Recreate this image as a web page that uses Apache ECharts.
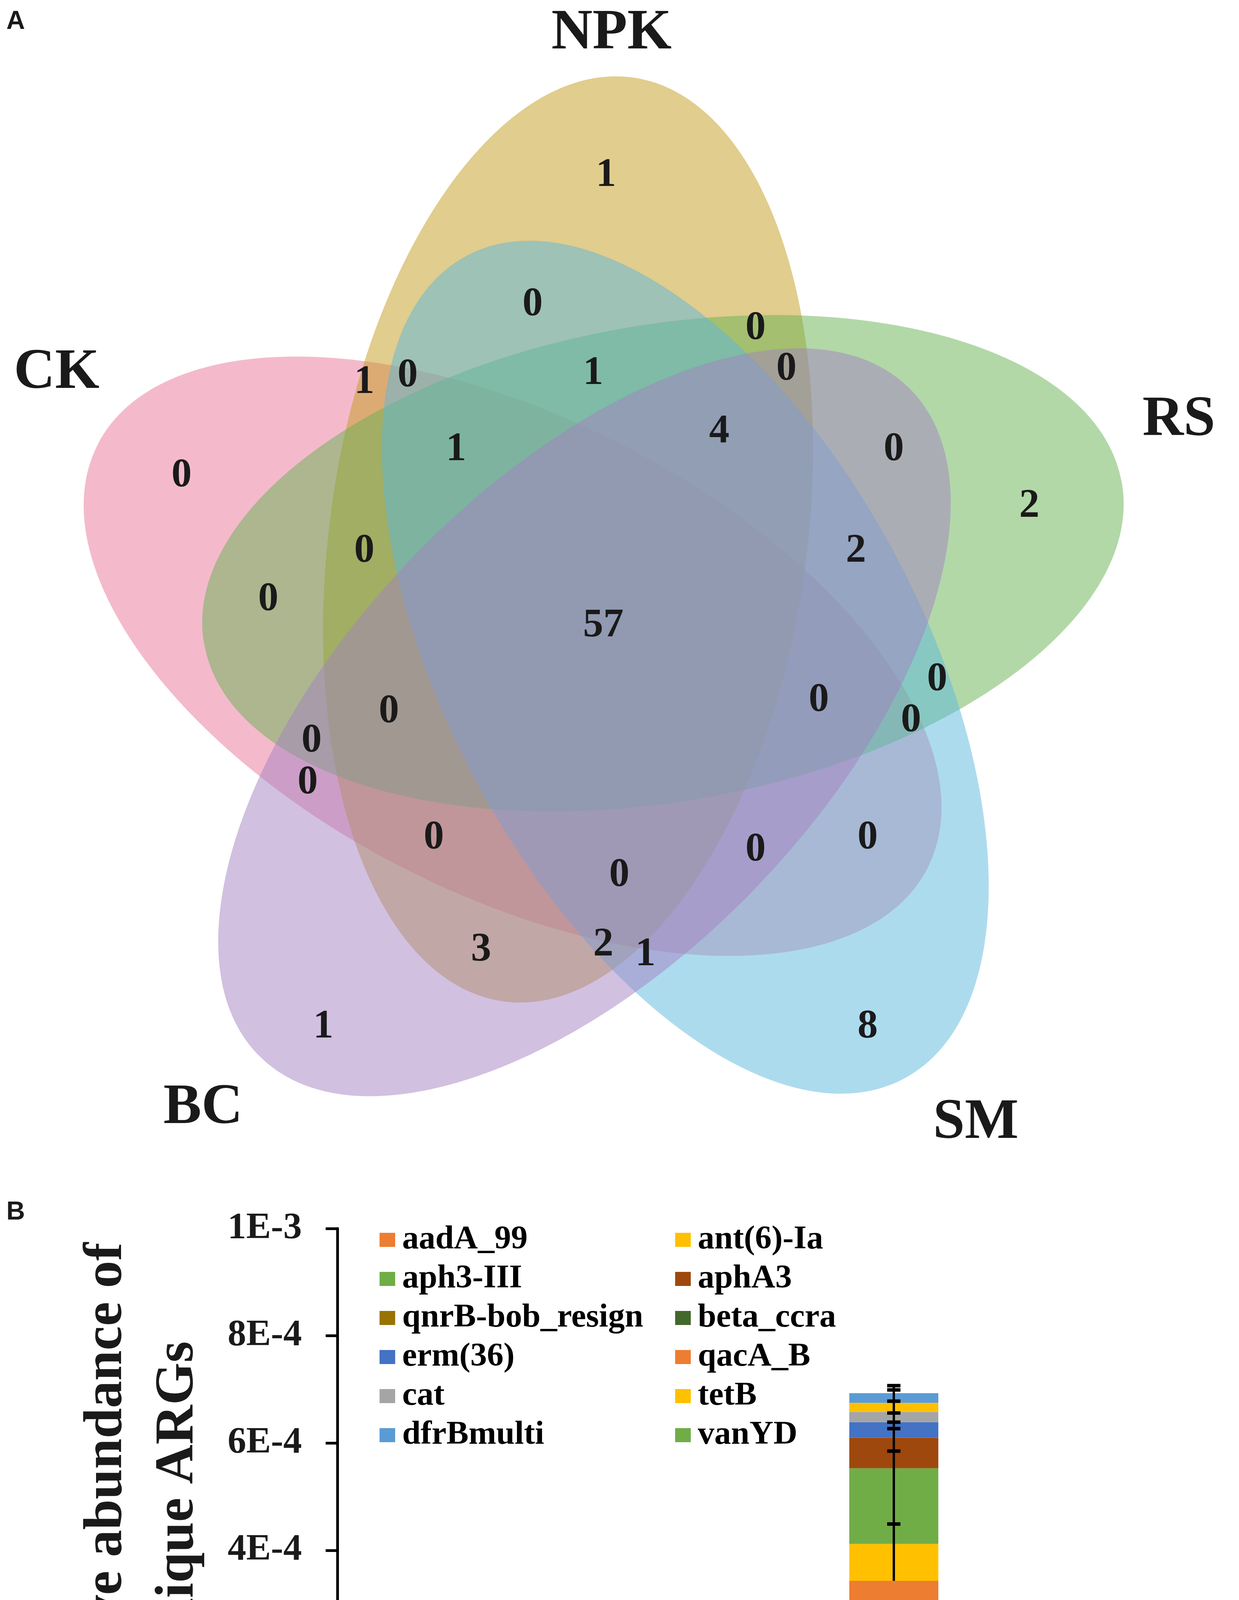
<!DOCTYPE html>
<html>
<head>
<meta charset="utf-8">
<script src="https://cdn.jsdelivr.net/npm/echarts@6/dist/echarts.min.js"></script>
<style>
html,body{margin:0;padding:0;background:#fff;}
#chart{width:3173px;height:4869px;}
</style>
</head>
<body>
<div id="chart"></div>
<script>
// ---------------- DATA ----------------
// Panel A: five-set Venn diagram
const vennSets = ['CK', 'NPK', 'RS', 'SM', 'BC'];
const vennRegionCounts = [1, 0, 0, 1, 0, 1, 0, 1, 4, 0, 2, 0, 0, 2, 0, 57, 0, 0, 0, 0, 0, 0, 0, 0, 0, 0, 3, 2, 1, 1, 8];

// Panel B: stacked bars
const treatments = ['NPK', 'RS', 'SM', 'BC'];
const genes = ['aadA_99', 'ant(6)-Ia', 'aph3-III', 'aphA3', 'qnrB-bob_resign', 'beta_ccra',
               'erm(36)', 'qacA_B', 'cat', 'tetB', 'dfrBmulti', 'vanYD'];
const aadA_99        = [0, 0, 3.43e-4, 0];
const ant6Ia         = [0, 0, 0.69e-4, 0];
const aph3III        = [0, 0, 1.41e-4, 0];
const aphA3          = [0, 0, 0.57e-4, 0];
const qnrBbobResign  = [0.19e-4, 0, 0, 0];
const betaCcra       = [0, 0, 0, 0.42e-4];
const erm36          = [0, 0, 0.29e-4, 0];
const qacA_B         = [0, 0.16e-4, 0, 0];
const cat            = [0, 0, 0.19e-4, 0];
const tetB           = [0, 0, 0.17e-4, 0];
const dfrBmulti      = [0, 0, 0.18e-4, 0];
const vanYD          = [0, 0.21e-4, 0, 0];
const geneValues = [aadA_99, ant6Ia, aph3III, aphA3, qnrBbobResign, betaCcra,
                    erm36, qacA_B, cat, tetB, dfrBmulti, vanYD];

// error bars (absolute ends)
const errTreatment = ['NPK', 'RS', 'SM', 'SM', 'SM', 'SM', 'SM', 'SM', 'SM', 'SM', 'BC'];
const errLow  = [0.165e-4, 0.17e-4, 3.43e-4, 4.12e-4, 5.53e-4, 6.10e-4, 6.39e-4, 6.58e-4, 6.75e-4, 6.93e-4, 0.42e-4];
const errHigh = [0.335e-4, 0.41e-4, 4.49e-4, 5.85e-4, 6.27e-4, 6.39e-4, 6.56e-4, 6.78e-4, 6.99e-4, 7.07e-4, 0.52e-4];
const errLowCap = [1, 1, 0, 0, 0, 0, 0, 0, 0, 0, 0];

const yTickLabels = ['0E+0', '2E-4', '4E-4', '6E-4', '8E-4', '1E-3'];

// ---------------- LAYOUT / STYLE ----------------
const SERIF = '"Liberation Serif", "Times New Roman", serif';
const vennColors = ['rgba(233,117,153,0.5)', 'rgba(195,155,28,0.5)', 'rgba(101,177,81,0.5)',
                    'rgba(91,183,221,0.5)', 'rgba(163,129,193,0.5)'];
// ellipse geometry: [cx, cy, semi-major, semi-minor, rotation deg (ccw)]
const vennEllipses = [
  [1313, 1680, 1193, 610, -27],
  [1455, 1381, 1194, 611, 82],
  [1698, 1442, 1193, 610, 10],
  [1755, 1708, 1193, 610, -62],
  [1497, 1849, 1193, 610, 46]
];
const vennSetLabelPos = [[145, 955], [1566, 86], [3019, 1076], [2499, 2875], [520, 2837]];
const vennRegionPos = [
  [1552, 449], [1364, 780], [1935, 841], [933, 979], [1044, 962], [1519, 956], [2014, 945],
  [1168, 1151], [1842, 1105], [2289, 1151], [2636, 1296], [465, 1218], [933, 1411], [2192, 1411],
  [687, 1535], [1545, 1602], [2400, 1740], [2097, 1793], [996, 1822], [2333, 1845], [798, 1897],
  [788, 2004], [1111, 2145], [2222, 2145], [1935, 2176], [1586, 2241], [1232, 2432], [1545, 2419],
  [1653, 2444], [828, 2629], [2222, 2629]
];
const geneColors = ['#ED7D31', '#FFC000', '#70AD47', '#9E480E', '#997300', '#43682B',
                    '#4472C4', '#ED7D31', '#A5A5A5', '#FFC000', '#5B9BD5', '#70AD47'];

// ---------------- BUILD ----------------
const chart = echarts.init(document.getElementById('chart'), null, {renderer: 'canvas'});

const graphic = [];
vennEllipses.forEach((e, i) => {
  graphic.push({
    type: 'ellipse', x: e[0], y: e[1], rotation: e[4] * Math.PI / 180, z: 1,
    shape: {cx: 0, cy: 0, rx: e[2], ry: e[3]},
    style: {fill: vennColors[i], stroke: null}
  });
});
function txt(x, y, s, size, family, rot, weight) {
  return {
    type: 'text', x: x, y: y, rotation: rot || 0, z: 10,
    style: {
      text: s, fontSize: size, fontFamily: family, fontWeight: weight || 'bold', fill: '#1a1a1a',
      align: 'center', verticalAlign: 'middle', textAlign: 'center', textVerticalAlign: 'middle'
    }
  };
}
vennRegionCounts.forEach((c, i) => {
  graphic.push(txt(vennRegionPos[i][0], vennRegionPos[i][1], String(c), 104, SERIF));
});
vennSets.forEach((s, i) => {
  graphic.push(txt(vennSetLabelPos[i][0], vennSetLabelPos[i][1], s, 146, SERIF));
});
graphic.push(txt(40, 56, 'A', 66, '"Liberation Sans", Arial, sans-serif'));
graphic.push(txt(40, 3104, 'B', 66, '"Liberation Sans", Arial, sans-serif'));
graphic.push(txt(274, 3846, 'Relative abundance of', 140, SERIF, Math.PI / 2));
graphic.push(txt(457, 3840, 'unique ARGs', 140, SERIF, Math.PI / 2));
graphic.push(txt(1680, 4788, 'Treatments', 142, SERIF));

const series = genes.map((g, i) => ({
  name: g, type: 'bar', stack: 'total', barWidth: '40%',
  itemStyle: {color: geneColors[i]},
  emphasis: {disabled: true},
  data: geneValues[i]
}));

const errData = errTreatment.map((t, i) => [treatments.indexOf(t), errLow[i], errHigh[i], errLowCap[i]]);
series.push({
  type: 'custom', name: 'err', coordinateSystem: 'cartesian2d', z: 5,
  encode: {x: 0, y: [1, 2]},
  data: errData,
  renderItem: function (params, api) {
    const xi = api.value(0);
    const lo = api.coord([xi, api.value(1)]);
    const hi = api.coord([xi, api.value(2)]);
    const half = 17;
    const st = {stroke: '#000', lineWidth: 6};
    const children = [
      {type: 'line', shape: {x1: lo[0], y1: lo[1], x2: hi[0], y2: hi[1]}, style: st},
      {type: 'line', shape: {x1: hi[0] - half, y1: hi[1], x2: hi[0] + half, y2: hi[1]}, style: {stroke: '#000', lineWidth: 9}}
    ];
    if (api.value(3)) {
      children.push({type: 'line', shape: {x1: lo[0] - half, y1: lo[1], x2: lo[0] + half, y2: lo[1]}, style: {stroke: '#000', lineWidth: 9}});
    }
    return {type: 'group', children: children};
  }
});

const legendText = {fontSize: 85, fontFamily: SERIF, fontWeight: 'bold', color: '#000', lineHeight: 100, padding: [0, 0, 0, 13]};
const option = {
  backgroundColor: '#fff',
  animation: false,
  graphic: graphic,
  legend: [
    {data: genes.filter((g, i) => i % 2 === 0), orient: 'vertical', left: 972, top: 3124,
     itemWidth: 40, itemHeight: 36, itemGap: 0, padding: 0, icon: 'rect', selectedMode: false,
     textStyle: legendText},
    {data: genes.filter((g, i) => i % 2 === 1), orient: 'vertical', left: 1729, top: 3124,
     itemWidth: 40, itemHeight: 36, itemGap: 0, padding: 0, icon: 'rect', selectedMode: false,
     textStyle: legendText}
  ],
  grid: {left: 864, right: 29, top: 3145, bottom: 351, containLabel: false},
  xAxis: {
    type: 'category', data: treatments,
    axisLine: {lineStyle: {color: '#000', width: 8}},
    axisTick: {alignWithLabel: true, length: 22, lineStyle: {color: '#000', width: 10}},
    axisLabel: {fontSize: 105, fontFamily: SERIF, fontWeight: 'bold', color: '#1a1a1a', margin: 66}
  },
  yAxis: {
    type: 'value', min: 0, max: 1e-3, interval: 2e-4,
    splitLine: {show: false},
    axisLine: {show: true, lineStyle: {color: '#000', width: 7}},
    axisTick: {show: true, length: 30, lineStyle: {color: '#000', width: 7}},
    axisLabel: {
      fontSize: 95, fontFamily: SERIF, fontWeight: 'bold', color: '#1a1a1a', margin: 91,
      formatter: function (v) { return yTickLabels[Math.round(v / 2e-4)]; }
    }
  },
  series: series
};
chart.setOption(option);
</script>
</body>
</html>
